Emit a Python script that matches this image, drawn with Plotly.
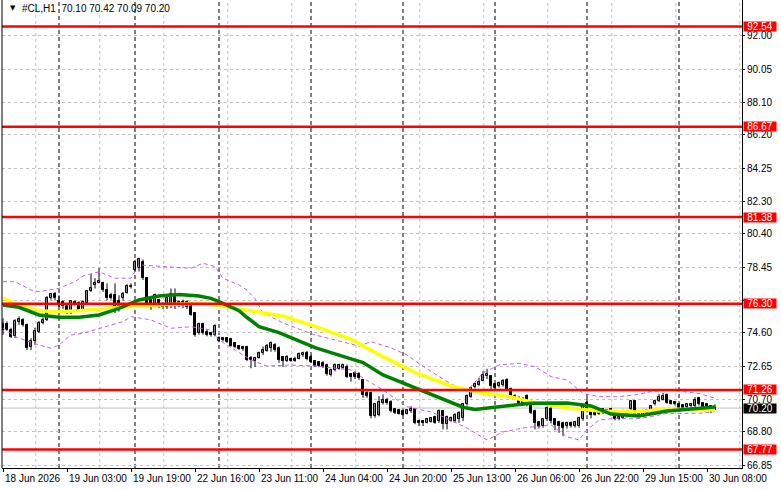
import plotly.graph_objects as go

FONT = "Liberation Sans"

bars = list(range(179))
opens = [75.13, 75.11, 74.78, 74.39, 75.23, 75.37, 75.07, 73.80, 74.10, 74.68,
         75.17, 75.36, 76.63, 76.90, 76.44, 76.38, 76.15, 75.76, 76.38, 76.34,
         75.95, 76.34, 77.06, 77.38, 77.52, 77.52, 77.12, 76.83, 76.83, 76.44,
         76.63, 76.93, 77.30, 78.29, 78.40, 78.74, 77.81, 76.63, 76.24, 76.54,
         76.30, 76.10, 76.24, 76.83, 76.20, 76.40, 76.43, 76.20, 75.75, 74.58,
         75.10, 74.68, 74.58, 74.48, 74.32, 74.28, 74.28, 74.22, 74.00, 73.85,
         73.76, 73.76, 73.15, 72.96, 73.15, 73.40, 73.55, 73.70, 73.89, 73.70,
         73.20, 72.96, 73.08, 73.06, 73.10, 73.30, 73.42, 73.20, 72.96, 72.88,
         72.86, 72.72, 72.14, 72.43, 72.50, 72.55, 72.63, 72.18, 72.23, 72.18,
         71.85, 71.09, 71.09, 69.72, 69.82, 70.50, 70.70, 70.56, 70.12, 70.08,
         70.02, 69.88, 70.02, 70.12, 69.47, 69.43, 69.33, 69.40, 69.67, 69.43,
         70.02, 69.24, 69.47, 69.43, 69.53, 69.63, 70.41, 70.84, 71.42, 71.54,
         71.81, 72.07, 72.07, 71.58, 71.48, 71.54, 71.87, 71.34, 70.80, 70.80,
         70.75, 70.90, 70.56, 70.02, 69.39, 69.14, 69.53, 70.17, 69.53, 69.39,
         69.33, 69.14, 69.33, 69.14, 69.14, 69.53, 70.50, 70.06, 69.98, 69.86,
         70.12, 70.06, 70.12, 69.98, 69.92, 69.63, 69.72, 70.17, 70.60, 69.98,
         69.82, 70.06, 70.02, 70.41, 70.60, 70.70, 70.95, 70.60, 70.55, 70.41,
         70.35, 70.25, 70.31, 70.31, 70.80, 70.50, 70.41, 70.31, 70.10]
highs = [75.46, 75.27, 74.90, 75.40, 75.56, 75.46, 75.15, 74.29, 74.90, 75.30,
         75.50, 76.75, 76.93, 77.00, 76.80, 76.50, 76.20, 76.50, 76.50, 76.45,
         76.50, 77.10, 78.04, 77.80, 78.39, 77.60, 77.50, 76.95, 77.50, 76.80,
         77.00, 77.45, 77.50, 78.88, 79.00, 78.90, 77.85, 76.75, 76.90, 76.60,
         76.40, 76.75, 77.20, 77.20, 76.50, 76.55, 76.50, 76.30, 75.80, 75.20,
         75.20, 74.80, 74.65, 75.10, 74.40, 74.35, 74.35, 74.30, 74.05, 73.90,
         73.85, 73.85, 73.25, 73.20, 73.50, 73.80, 73.95, 74.10, 74.00, 73.80,
         73.25, 73.30, 73.15, 73.20, 73.45, 73.50, 73.55, 73.30, 73.00, 72.95,
         72.95, 72.80, 72.50, 72.80, 72.80, 72.80, 72.75, 72.25, 72.35, 72.30,
         71.90, 71.20, 71.15, 70.50, 70.90, 71.00, 70.80, 70.65, 70.20, 70.15,
         70.10, 70.12, 70.31, 70.20, 69.53, 69.50, 69.60, 69.65, 69.75, 70.12,
         70.10, 69.75, 69.70, 69.90, 70.02, 70.50, 71.00, 71.45, 71.70, 71.97,
         72.36, 72.50, 72.12, 71.65, 71.75, 71.90, 71.95, 71.40, 71.00, 70.90,
         70.85, 71.00, 70.60, 70.10, 69.45, 69.60, 70.30, 70.25, 69.60, 69.45,
         69.40, 69.40, 69.40, 69.45, 69.70, 70.40, 70.80, 70.12, 70.05, 70.10,
         70.18, 70.12, 70.20, 70.05, 70.00, 70.10, 70.00, 70.65, 70.65, 70.05,
         70.10, 70.12, 70.36, 70.70, 71.03, 71.10, 71.05, 70.65, 70.60, 70.45,
         70.40, 70.45, 70.50, 70.84, 70.85, 70.55, 70.45, 70.35, 70.42]
lows = [74.49, 74.73, 74.30, 74.30, 75.07, 74.97, 73.60, 73.60, 73.90, 74.60,
        75.10, 75.30, 76.54, 76.50, 75.60, 76.00, 75.70, 75.70, 76.20, 75.90,
        75.90, 76.30, 77.00, 77.20, 77.50, 77.00, 76.50, 76.55, 75.76, 75.85,
        76.50, 76.90, 77.20, 78.20, 78.20, 77.70, 76.10, 75.95, 76.10, 76.05,
        76.00, 76.00, 76.05, 76.00, 76.10, 76.05, 76.00, 75.60, 74.38, 74.50,
        74.50, 74.40, 74.38, 74.40, 74.05, 74.10, 74.00, 73.80, 73.70, 73.60,
        73.55, 72.95, 72.53, 72.60, 73.10, 73.30, 73.50, 73.50, 73.50, 72.85,
        72.60, 72.90, 72.90, 72.90, 73.05, 73.20, 73.00, 72.85, 72.60, 72.60,
        72.55, 72.10, 72.05, 72.35, 72.45, 72.50, 71.95, 71.75, 71.90, 71.85,
        70.80, 70.80, 69.60, 69.63, 69.72, 70.40, 70.40, 69.95, 69.85, 69.82,
        69.75, 69.82, 69.92, 69.25, 69.14, 69.14, 69.30, 69.35, 69.28, 69.33,
        68.95, 68.95, 69.40, 69.35, 69.33, 69.43, 70.35, 70.80, 71.35, 71.50,
        71.77, 71.90, 71.30, 71.30, 71.40, 71.45, 71.20, 70.75, 70.70, 70.35,
        70.35, 70.30, 69.85, 68.95, 69.00, 69.05, 69.45, 69.30, 68.90, 68.75,
        68.55, 69.00, 69.05, 69.05, 69.05, 69.45, 69.95, 69.60, 69.75, 69.80,
        69.85, 69.86, 69.90, 69.48, 69.48, 69.55, 69.65, 70.10, 69.75, 69.72,
        69.75, 69.80, 69.95, 70.35, 70.55, 70.65, 70.45, 70.40, 70.35, 70.15,
        70.10, 70.20, 70.25, 70.25, 70.35, 70.15, 70.05, 69.90, 70.09]
closes = [74.78, 74.78, 74.35, 75.27, 75.40, 75.07, 73.71, 74.14, 74.72, 75.17,
          75.36, 76.63, 76.87, 76.63, 76.24, 76.15, 75.76, 76.44, 76.29, 75.95,
          76.38, 77.03, 77.22, 77.52, 77.61, 77.12, 76.63, 76.63, 75.95, 75.95,
          76.89, 77.36, 77.36, 78.78, 78.95, 77.81, 76.24, 76.15, 76.83, 76.15,
          76.10, 76.63, 76.87, 76.15, 76.40, 76.15, 76.14, 75.65, 74.48, 75.10,
          74.58, 74.48, 74.48, 75.03, 74.13, 74.19, 74.09, 73.85, 73.80, 73.66,
          73.64, 73.02, 73.02, 73.15, 73.44, 73.60, 73.85, 74.00, 73.60, 73.02,
          72.96, 73.20, 72.96, 72.96, 73.35, 73.40, 73.10, 72.92, 72.69, 72.69,
          72.63, 72.18, 72.43, 72.72, 72.72, 72.72, 72.04, 72.04, 72.04, 71.94,
          70.97, 70.90, 69.72, 70.41, 70.56, 70.70, 70.50, 70.02, 69.92, 69.88,
          69.82, 70.06, 70.12, 69.33, 69.33, 69.33, 69.53, 69.59, 69.33, 70.02,
          69.24, 69.67, 69.63, 69.82, 69.92, 70.45, 70.90, 71.38, 71.62, 71.74,
          72.16, 72.20, 71.48, 71.38, 71.68, 71.81, 71.28, 70.80, 70.90, 70.41,
          70.41, 70.41, 69.92, 69.33, 69.08, 69.53, 70.21, 69.43, 69.20, 69.14,
          69.04, 69.33, 69.14, 69.39, 69.63, 70.31, 70.02, 69.78, 69.82, 70.02,
          69.92, 69.92, 69.98, 69.53, 69.53, 70.02, 69.92, 70.60, 69.82, 69.78,
          70.02, 69.86, 70.31, 70.64, 70.84, 70.90, 70.50, 70.45, 70.41, 70.21,
          70.17, 70.41, 70.45, 70.70, 70.41, 70.25, 70.17, 70.12, 70.20]

# Moving averages and bands (at these bars)
yellow_bars = [0, 4, 9, 14, 19, 24, 29, 33, 39, 44, 49, 54, 59, 62, 66, 70, 78, 87,
               95, 103, 112, 120, 124, 127, 132, 141, 149, 158, 166, 174, 178]
yellow_vals = [76.64, 76.18, 75.90, 75.84, 75.90, 75.98, 76.10, 76.18, 76.23, 76.30,
               76.33, 76.20, 76.00, 75.85, 75.72, 75.58, 74.98, 74.22, 73.21, 72.28,
               71.49, 71.06, 70.96, 70.85, 70.55, 70.21, 70.03, 69.97, 70.15, 70.13, 70.09]
green_bars = [0, 4, 9, 14, 19, 24, 29, 34, 39, 44, 49, 52, 54, 57, 59, 61, 64, 69, 78,
              87, 90, 95, 103, 112, 115, 118, 120, 127, 132, 141, 147, 152, 159, 166,
              174, 178]
green_vals = [76.23, 76.10, 75.65, 75.51, 75.51, 75.65, 76.04, 76.53, 76.76, 76.85,
              76.76, 76.62, 76.43, 76.10, 75.90, 75.50, 74.97, 74.62, 73.74, 73.08,
              72.86, 72.14, 71.38, 70.57, 70.25, 70.12, 70.17, 70.38, 70.48, 70.50,
              70.32, 69.85, 69.74, 70.03, 70.21, 70.26]
upper_bars = [0, 3, 7, 9, 14, 18, 20, 24, 28, 32, 34, 40, 47, 50, 53, 55, 59, 61, 63,
              65, 70, 78, 85, 89, 92, 97, 101, 104, 108, 112, 116, 120, 124, 129, 133,
              137, 141, 145, 149, 154, 158, 162, 166, 170, 174, 178]
upper_vals = [77.60, 77.60, 77.11, 77.01, 77.21, 77.60, 77.93, 78.18, 77.80, 77.80,
              78.58, 78.48, 78.38, 78.68, 78.48, 77.80, 77.41, 77.10, 76.60, 75.77,
              75.18, 74.48, 74.09, 73.83, 74.09, 73.72, 73.31, 72.80, 72.20, 71.60,
              71.20, 72.25, 72.72, 72.82, 72.62, 72.04, 71.84, 71.06, 70.87, 70.87,
              70.97, 71.16, 71.26, 71.16, 71.06, 70.77]
lower_bars = [0, 3, 9, 12, 14, 17, 20, 24, 27, 30, 32, 37, 42, 47, 52, 54, 58, 62, 66,
              72, 78, 87, 90, 95, 101, 107, 110, 116, 121, 125, 130, 133, 137, 141,
              144, 146, 149, 154, 158, 162, 166, 174, 178]
lower_vals = [74.89, 74.38, 73.89, 73.70, 73.89, 74.48, 74.58, 74.87, 75.06, 75.26,
              75.55, 75.36, 74.87, 74.96, 74.77, 74.19, 73.60, 73.01, 72.66, 72.72,
              72.66, 72.43, 71.96, 71.26, 70.28, 69.97, 69.69, 69.03, 68.33, 68.80,
              69.03, 69.09, 69.21, 68.52, 68.33, 68.92, 69.50, 69.62, 69.56, 69.69,
              69.89, 69.89, 69.99]

levels = [92.54, 86.67, 81.38, 76.30, 71.26, 67.77]
last_price = 70.20
title_text = "#CL,H1\u00a0\u00a070.10 70.42 70.09 70.20"

price_ticks = [92.00, 90.05, 88.10, 86.20, 84.25, 82.30, 80.40, 78.45, 76.50,
               74.60, 72.65, 70.70, 68.80, 66.85]
hidden_ticks = [76.50]   # covered by the 76.30 level box in the original
date_ticks = [0, 16, 32, 48, 64, 80, 96, 112, 128, 144, 160, 176]
date_labels = ["18 Jun 2026", "19 Jun 03:00", "19 Jun 19:00", "22 Jun 16:00",
               "23 Jun 11:00", "24 Jun 04:00", "24 Jun 20:00", "25 Jun 13:00",
               "26 Jun 06:00", "26 Jun 22:00", "29 Jun 15:00", "30 Jun 08:00"]
day_starts = [14, 33, 54, 77, 100, 123, 146, 169]
vgrid = [8.2 + 16 * k for k in range(12)]

fig = go.Figure()

# wicks
wx, wy = [], []
for i, h, l in zip(bars, highs, lows):
    wx += [i, i, None]
    wy += [l, h, None]
fig.add_trace(go.Scatter(x=wx, y=wy, mode="lines", line=dict(color="black", width=1),
                         showlegend=False, hoverinfo="skip"))
# bodies
body_base = [min(o, c) for o, c in zip(opens, closes)]
body_len = [max(abs(c - o), 0.02) for o, c in zip(opens, closes)]
body_col = ["white" if c >= o else "black" for o, c in zip(opens, closes)]
fig.add_trace(go.Bar(x=bars, y=body_len, base=body_base, width=0.55,
                     marker=dict(color=body_col, line=dict(color="black", width=1)),
                     showlegend=False, hoverinfo="skip"))

purple = "#BE62E6"
fig.add_trace(go.Scatter(x=upper_bars, y=upper_vals, mode="lines",
                         line=dict(color=purple, width=1, dash="4px,3px"),
                         showlegend=False, hoverinfo="skip"))
fig.add_trace(go.Scatter(x=lower_bars, y=lower_vals, mode="lines",
                         line=dict(color=purple, width=1, dash="4px,3px"),
                         showlegend=False, hoverinfo="skip"))
fig.add_trace(go.Scatter(x=yellow_bars, y=yellow_vals, mode="lines",
                         line=dict(color="#FFFF00", width=3.5),
                         showlegend=False, hoverinfo="skip"))
fig.add_trace(go.Scatter(x=green_bars, y=green_vals, mode="lines",
                         line=dict(color="#008000", width=3.5),
                         showlegend=False, hoverinfo="skip"))

shapes = []
for g in vgrid:
    shapes.append(dict(type="line", xref="x", yref="paper", x0=g, x1=g, y0=0, y1=1,
                       line=dict(color="#c0c0c0", width=1, dash="3px,3px"), layer="below"))
for d in day_starts:
    shapes.append(dict(type="line", xref="x", yref="paper", x0=d, x1=d, y0=0, y1=1,
                       line=dict(color="black", width=1, dash="4px,3px"), layer="below"))
shapes.append(dict(type="line", xref="paper", yref="y", x0=0, x1=1, y0=last_price,
                   y1=last_price, line=dict(color="#c0c0c0", width=1), layer="below"))
for lv in levels:
    shapes.append(dict(type="line", xref="paper", yref="y", x0=0, x1=1, y0=lv, y1=lv,
                       line=dict(color="#FF0000", width=2.5), layer="above"))
shapes.append(dict(type="line", xref="paper", yref="paper", x0=0, x1=0, y0=0, y1=1,
                   line=dict(color="black", width=1)))

annotations = []
for lv in levels:
    annotations.append(dict(xref="paper", yref="y", x=1, y=lv, xanchor="left",
                            yanchor="middle", xshift=1, text=f"{lv:.2f}",
                            showarrow=False, bgcolor="#FF0000", width=32, height=9,
                            borderpad=0, font=dict(family=FONT, size=10, color="white")))
annotations.append(dict(xref="paper", yref="y", x=1, y=last_price, xanchor="left",
                        yanchor="middle", xshift=1, text=f"{last_price:.2f}",
                        showarrow=False, bgcolor="black", width=32, height=9,
                        borderpad=0, font=dict(family=FONT, size=10, color="white")))
for t, lab in zip(date_ticks, date_labels):
    annotations.append(dict(xref="x", yref="paper", x=t, y=0, xanchor="left",
                            yanchor="middle", yshift=-10, text=lab, showarrow=False,
                            font=dict(family=FONT, size=10, color="black")))
annotations.append(dict(xref="paper", yref="paper", x=6 / 740, y=1 - 8 / 468,
                        xanchor="left", yanchor="middle", text="\u25bc", showarrow=False,
                        font=dict(family="DejaVu Sans", size=7, color="black")))
annotations.append(dict(xref="paper", yref="paper", x=18 / 740, y=1 - 8 / 468,
                        xanchor="left", yanchor="middle", text=title_text, showarrow=False,
                        font=dict(family=FONT, size=10, color="black")))

fig.update_layout(
    width=781, height=489,
    margin=dict(l=2, r=39, t=0, b=21),
    paper_bgcolor="white", plot_bgcolor="white",
    shapes=shapes, annotations=annotations, bargap=0,
    xaxis=dict(range=[-0.25, 184.75],
               showgrid=False, zeroline=False, showline=True, linecolor="black",
               linewidth=1, ticks="outside", ticklen=3, tickcolor="black",
               tickvals=date_ticks, showticklabels=False, fixedrange=True),
    yaxis=dict(range=[66.69, 94.09], side="right", showgrid=True,
               gridcolor="#c0c0c0", griddash="3px,3px", gridwidth=1, zeroline=False,
               showline=True, linecolor="black", linewidth=1, ticks="outside",
               ticklen=2, tickcolor="black", tickvals=price_ticks,
               ticktext=["" if v in hidden_ticks else f"{v:.2f}" for v in price_ticks],
               tickfont=dict(family=FONT, size=10, color="black"), fixedrange=True),
    font=dict(family=FONT),
)

fig.write_html("out.html")
